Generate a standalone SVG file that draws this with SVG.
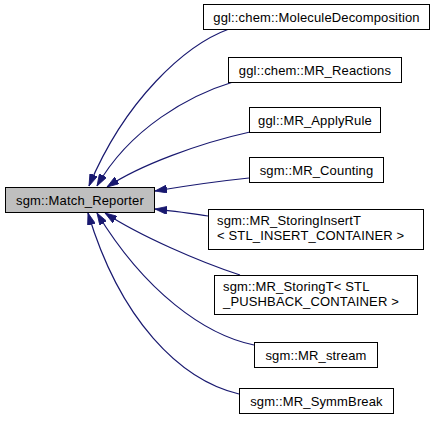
<svg xmlns="http://www.w3.org/2000/svg" width="435" height="423" viewBox="0 0 435 423">
<style>
.node rect{fill:#ffffff;stroke:#000000;stroke-width:1}
.node.main rect{fill:#bfbfbf}
.node text{font-family:"Liberation Sans",Arial,Helvetica,sans-serif;font-size:13px;letter-spacing:0.15px;fill:#000000}
.c{text-anchor:middle}
.edges path{fill:none;stroke:#191970;stroke-width:1.2;marker-end:url(#ah)}
</style>
<defs>
<marker id="ah" viewBox="0 0 12 8" refX="12" refY="4" markerWidth="12" markerHeight="8" markerUnits="userSpaceOnUse" orient="auto">
<path d="M0,0 L12,4 L0,8 z" fill="#191970" stroke="#191970" stroke-width="0.8"/>
</marker>
</defs>
<rect width="435" height="423" fill="#ffffff"/>
<g class="edges">
<path d="M229,29 C185,45 125,100 89,186"/>
<path d="M233,82 C190,95 130,128 97,186"/>
<path d="M250,132 C200,143 140,165 107,187"/>
<path d="M249,178 C220,181 185,186 155,191"/>
<path d="M208,216 C190,213 172,211 155,209"/>
<path d="M240,275 C200,262 140,236 105,213"/>
<path d="M254,345 C205,335 145,292 97,213"/>
<path d="M239,394 C180,380 120,320 88,213"/>
</g>
<g id="node-match-reporter" class="node main"><rect x="5.5" y="187.5" width="149" height="25"/><text class="c" x="80" y="204.5">sgm::Match_Reporter</text></g>
<g id="node-molecule-decomposition" class="node"><rect x="203.5" y="4.5" width="226" height="25"/><text class="c" x="316.5" y="21.5">ggl::chem::MoleculeDecomposition</text></g>
<g id="node-mr-reactions" class="node"><rect x="228.5" y="57.5" width="173" height="25"/><text class="c" x="315" y="74.5">ggl::chem::MR_Reactions</text></g>
<g id="node-mr-applyrule" class="node"><rect x="249.5" y="107.5" width="131" height="25"/><text class="c" x="315" y="124.5">ggl::MR_ApplyRule</text></g>
<g id="node-mr-counting" class="node"><rect x="249.5" y="157.5" width="134" height="25"/><text class="c" x="316.5" y="174.5">sgm::MR_Counting</text></g>
<g id="node-mr-storinginsertt" class="node"><rect x="208.5" y="209.5" width="215" height="40"/><text x="217" y="224.5">sgm::MR_StoringInsertT</text><text x="217" y="239.5">&lt; STL_INSERT_CONTAINER &gt;</text></g>
<g id="node-mr-storingt" class="node"><rect x="214.5" y="275.5" width="203" height="39"/><text x="223" y="290.5">sgm::MR_StoringT&lt; STL</text><text x="223" y="305.5">_PUSHBACK_CONTAINER &gt;</text></g>
<g id="node-mr-stream" class="node"><rect x="254.5" y="342.5" width="123" height="25"/><text class="c" x="316" y="359.5">sgm::MR_stream</text></g>
<g id="node-mr-symmbreak" class="node"><rect x="239.5" y="388.5" width="154" height="25"/><text class="c" x="316.5" y="405.5">sgm::MR_SymmBreak</text></g>
</svg>
